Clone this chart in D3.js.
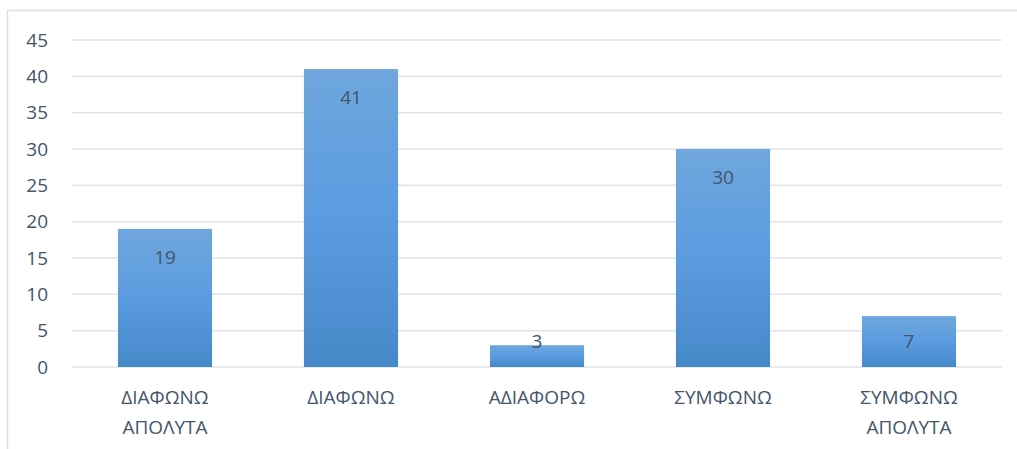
<!DOCTYPE html>
<html>
<head>
<meta charset="utf-8">
<script src="https://cdn.jsdelivr.net/npm/d3@7"></script>
<style>
  body { margin: 0; background: #fff; }
  svg text { font-family: "Open Sans", "Noto Sans", sans-serif; fill: #44546a; }
</style>
</head>
<body>
<div id="chart"></div>
<script>
const categories = [["ΔΙΑΦΩΝΩ", "ΑΠΟΛΥΤΑ"], ["ΔΙΑΦΩΝΩ"], ["ΑΔΙΑΦΟΡΩ"], ["ΣΥΜΦΩΝΩ"], ["ΣΥΜΦΩΝΩ", "ΑΠΟΛΥΤΑ"]];
const values = [19, 41, 3, 30, 7];
const yTicks = [0, 5, 10, 15, 20, 25, 30, 35, 40, 45];

const W = 1017, H = 449;
const margin = {top: 40, right: 15, bottom: 82, left: 72},
    width = W - margin.left - margin.right,
    height = H - margin.top - margin.bottom;

const root = d3.select("#chart")
  .append("svg")
  .attr("width", W)
  .attr("height", H);

// outer chart frame
root.append("rect")
  .attr("x", 7.5).attr("y", 10.5)
  .attr("width", 1040).attr("height", 460)
  .attr("fill", "none")
  .attr("stroke", "#d9dde4")
  .attr("stroke-width", 1.5);

const defs = root.append("defs");
const grad = defs.append("linearGradient")
  .attr("id", "barGrad")
  .attr("x1", 0).attr("y1", 0).attr("x2", 0).attr("y2", 1);
grad.append("stop").attr("offset", "0%").attr("stop-color", "#6fa7dd");
grad.append("stop").attr("offset", "50%").attr("stop-color", "#5b9be0");
grad.append("stop").attr("offset", "100%").attr("stop-color", "#4689c8");

const svg = root.append("g")
  .attr("transform", `translate(${margin.left},${margin.top})`);

const x = d3.scaleBand()
  .domain(d3.range(categories.length))
  .range([0, width])
  .paddingInner(0.494)
  .paddingOuter(0.247);

const y = d3.scaleLinear()
  .domain([0, 45])
  .range([height, 0]);

// gridlines
svg.append("g")
  .selectAll("line")
  .data(yTicks)
  .join("line")
  .attr("x1", 0).attr("x2", width)
  .attr("y1", d => y(d)).attr("y2", d => y(d))
  .attr("stroke", "#dfe3ea")
  .attr("stroke-width", 1.5);

// y axis labels
const yAxis = svg.append("g")
  .call(d3.axisLeft(y).tickValues(yTicks).tickSize(0).tickPadding(24));
yAxis.select(".domain").remove();
yAxis.selectAll("text")
  .attr("font-size", 19)
  .style("font-family", "'Open Sans', sans-serif")
  .attr("fill", "#44546a");

// bars
svg.append("g")
  .selectAll("rect")
  .data(values)
  .join("rect")
  .attr("x", (d, i) => x(i))
  .attr("y", d => y(d))
  .attr("width", x.bandwidth())
  .attr("height", d => height - y(d))
  .attr("fill", "url(#barGrad)");

// value labels
svg.append("g")
  .selectAll("text")
  .data(values)
  .join("text")
  .attr("x", (d, i) => x(i) + x.bandwidth() / 2)
  .attr("y", d => Math.min(y(d) + 28, height - 26))
  .attr("dy", "0.35em")
  .attr("text-anchor", "middle")
  .attr("font-size", 19)
  .text(d => d);

// category labels
const xl = svg.append("g")
  .selectAll("text")
  .data(categories)
  .join("text")
  .attr("x", (d, i) => x(i) + x.bandwidth() / 2)
  .attr("y", height + 37)
  .attr("text-anchor", "middle")
  .attr("font-size", 19);
xl.selectAll("tspan")
  .data(d => d)
  .join("tspan")
  .attr("x", function() { return this.parentNode.getAttribute("x"); })
  .attr("dy", (d, i) => i === 0 ? 0 : 30)
  .text(d => d);
</script>
</body>
</html>
